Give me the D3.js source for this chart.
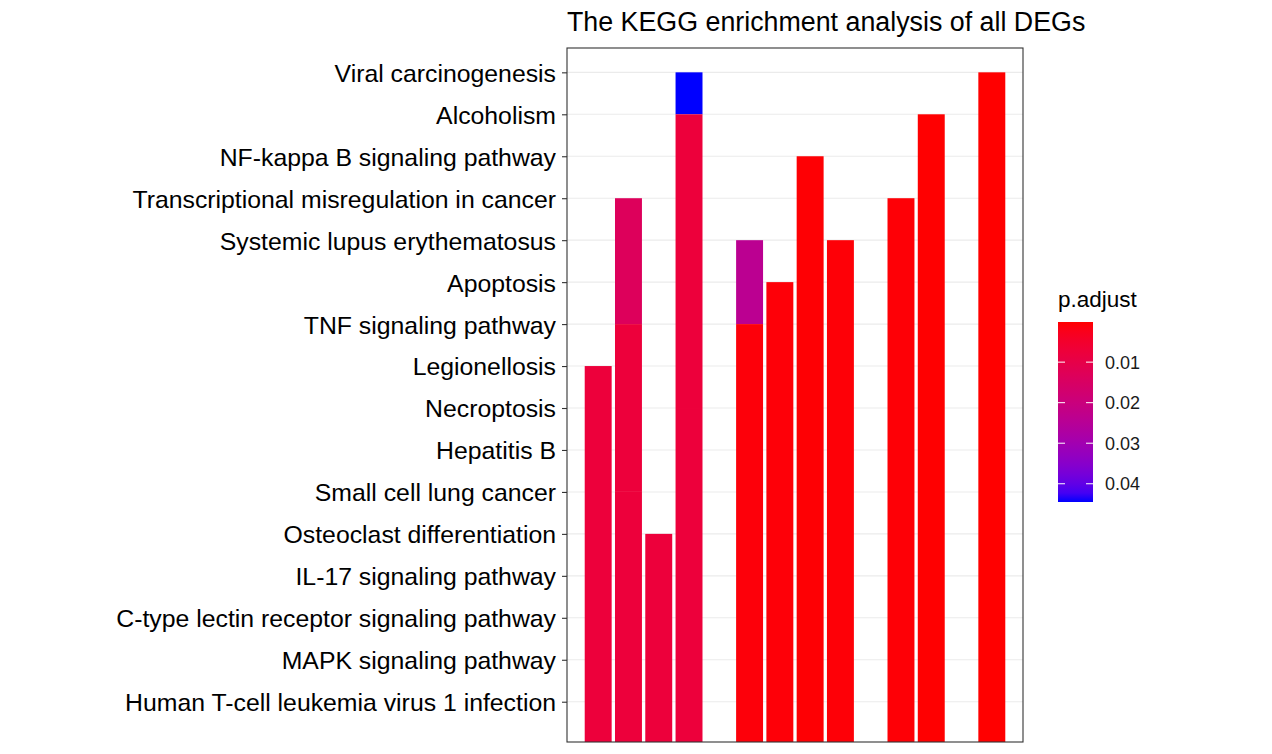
<!DOCTYPE html>
<html><head><meta charset="utf-8">
<script src="https://cdn.jsdelivr.net/npm/d3@7"></script>
<style>body{margin:0;background:#fff;} text{font-family:"Liberation Sans",Arial,sans-serif;}</style>
</head><body><svg id="c" width="1272" height="754"></svg>
<script>
// pathways, bottom (index 1) to top (index 16)
const pathways = ["Human T-cell leukemia virus 1 infection","MAPK signaling pathway","C-type lectin receptor signaling pathway","IL-17 signaling pathway","Osteoclast differentiation","Small cell lung cancer","Hepatitis B","Necroptosis","Legionellosis","TNF signaling pathway","Apoptosis","Systemic lupus erythematosus","Transcriptional misregulation in cancer","NF-kappa B signaling pathway","Alcoholism","Viral carcinogenesis"];
// horizontal bar position (count slot) of each pathway's bar
const xSlot = [4, 6, 2, 2, 3, 2, 4, 4, 1, 6, 7, 9, 11, 8, 12, 14];
// adjusted p-values
const pAdjust = [0.0445, 0.024, 0.0135, 0.0075, 0.0075, 0.0075, 0.0075, 0.0075, 0.0075, 0.0008, 0.0007, 0.0006, 0.0005, 0.0004, 0.0002, 0.0001];
const legendTicks = [0.01, 0.02, 0.03, 0.04];
const title = "The KEGG enrichment analysis of all DEGs";

const svg = d3.select("#c");
const L = 567, R = 1023, T = 48, B = 742;
const x = d3.scaleLinear().domain([-0.03, 15.03]).range([L, R]);
const y = d3.scaleLinear().domain([0.04, 16.58]).range([B, T]);
const pMin = d3.min(pAdjust), pMax = d3.max(pAdjust);
const color = d3.scaleLinear().domain([pMin, pMax]).range(["red", "blue"]).interpolate(d3.interpolateLab);

const rows = pathways.map((name, i) => ({name, idx: i + 1, slot: xSlot[i], p: pAdjust[i]}));
// stack order: lower p (more significant) segments at bottom
const stackOrder = rows.slice().sort((a, b) => d3.ascending(a.p, b.p) || d3.descending(a.idx, b.idx));
const base = {};
stackOrder.forEach(r => { const b0 = base[r.slot] || 0; r.y0 = b0; r.y1 = b0 + r.idx; base[r.slot] = r.y1; });

svg.append("defs").append("clipPath").attr("id", "clip").append("rect")
  .attr("x", L).attr("y", T).attr("width", R - L).attr("height", B - T);

// grid
svg.append("g").selectAll("line").data(d3.range(1, 17)).join("line")
  .attr("x1", L).attr("x2", R).attr("y1", d => y(d)).attr("y2", d => y(d))
  .attr("stroke", "#ebebeb").attr("stroke-width", 1.1);

const bw = 0.89;
svg.append("g").attr("clip-path", "url(#clip)").selectAll("rect").data(rows).join("rect")
  .attr("x", d => x(d.slot - bw / 2)).attr("width", d => x(bw) - x(0))
  .attr("y", d => y(d.y1))
  .attr("height", d => (d.y0 > 0 ? y(d.y0) : B + 2) - y(d.y1))
  .attr("fill", d => color(d.p));

// border
svg.append("rect").attr("x", L).attr("y", T).attr("width", R - L).attr("height", B - T)
  .attr("fill", "none").attr("stroke", "#333").attr("stroke-width", 1.1);

// y axis
const ax = svg.append("g").attr("transform", `translate(${L},0)`)
  .call(d3.axisLeft(y).tickValues(d3.range(1, 17)).tickFormat(d => pathways[d - 1]).tickSize(5).tickPadding(6));
ax.select(".domain").remove();
ax.selectAll(".tick line").attr("stroke", "#333").attr("stroke-width", 1.1);
ax.selectAll(".tick text").attr("fill", "#000").style("font-size", "24.8px").style("font-family", "Liberation Sans, Arial, sans-serif").attr("dy", "0.36em");

// title
svg.append("text").attr("x", L).attr("y", 31).text(title).style("font-size", "26.8px").attr("fill", "#000");

// legend
const lg = svg.append("g");
const lx = 1058, lw = 35, ly0 = 322, ly1 = 502;
const ly = d3.scaleLinear().domain([pMin, pMax]).range([ly0, ly1]);
const grad = svg.select("defs").append("linearGradient").attr("id", "g").attr("x1", 0).attr("x2", 0).attr("y1", 0).attr("y2", 1);
d3.range(0, 1.0001, 0.05).forEach(t => grad.append("stop").attr("offset", t).attr("stop-color", color(pMin + t * (pMax - pMin))));
lg.append("rect").attr("x", lx).attr("y", ly0).attr("width", lw).attr("height", ly1 - ly0).attr("fill", "url(#g)");
legendTicks.forEach(v => {
  lg.append("line").attr("x1", lx).attr("x2", lx + 7).attr("y1", ly(v)).attr("y2", ly(v)).attr("stroke", "#fff").attr("stroke-width", 1);
  lg.append("line").attr("x1", lx + lw - 7).attr("x2", lx + lw).attr("y1", ly(v)).attr("y2", ly(v)).attr("stroke", "#fff").attr("stroke-width", 1);
  lg.append("text").attr("x", 1105).attr("y", ly(v)).attr("dy", "0.36em").text(v.toFixed(2)).style("font-size", "18px").attr("fill", "#1a1a1a");
});
lg.append("text").attr("x", 1058).attr("y", 307).text("p.adjust").style("font-size", "22.5px").attr("fill", "#000");
</script></body></html>
